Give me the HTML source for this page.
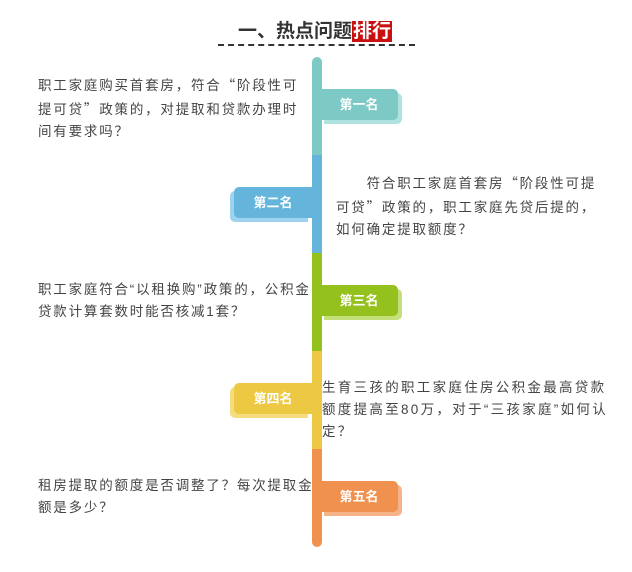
<!DOCTYPE html>
<html><head><meta charset="utf-8"><style>
body{margin:0;width:632px;height:572px;background:#fff;position:relative;overflow:hidden;font-family:"Liberation Sans","Noto Sans CJK SC",sans-serif;}
.a{position:absolute}
.t{position:absolute;font-size:13.5px;color:#444;line-height:22px;letter-spacing:1.8px;white-space:nowrap}
.q{font-family:"Noto Sans CJK SC",sans-serif}
.tag{position:absolute;width:78px;height:31px;color:#fff;font-size:13px;font-weight:bold;text-align:center;line-height:31px;border-radius:0 5px 5px 0}
.tl{border-radius:5px 0 0 5px}
</style></head><body>
<div class="a" style="left:238px;top:19px;font-size:19px;font-weight:bold;color:#333;line-height:25px">一、热点问题<span style="background:#c8100f;color:#fff;padding:0 1px">排行</span></div>
<div class="a" style="left:218px;top:44px;width:197px;border-top:2px dashed #333"></div>

<div class="a" style="left:312px;top:57px;width:10px;height:98px;background:#7cc9c5;border-radius:5px 5px 0 0"></div>
<div class="a" style="left:312px;top:155px;width:10px;height:98px;background:#65b4db"></div>
<div class="a" style="left:312px;top:253px;width:10px;height:98px;background:#95c11f"></div>
<div class="a" style="left:312px;top:351px;width:10px;height:98px;background:#ecc843"></div>
<div class="a" style="left:312px;top:449px;width:10px;height:98px;background:#f0914f;border-radius:0 0 5px 5px"></div>

<div class="tag" style="left:324px;top:93px;background:#aee3e0"></div>
<div class="tag" style="left:320px;top:89px;background:#7cc9c5">第一名</div>
<div class="tag tl" style="left:230px;top:191px;background:#9dd3ef"></div>
<div class="tag tl" style="left:234px;top:187px;background:#65b4db">第二名</div>
<div class="tag" style="left:324px;top:289px;background:#c5e07a"></div>
<div class="tag" style="left:320px;top:285px;background:#95c11f">第三名</div>
<div class="tag tl" style="left:230px;top:387px;background:#f5dc7e"></div>
<div class="tag tl" style="left:234px;top:383px;background:#ecc843">第四名</div>
<div class="tag" style="left:324px;top:485px;background:#f6b389"></div>
<div class="tag" style="left:320px;top:481px;background:#f0914f">第五名</div>

<div class="t" style="left:38px;top:73px">职工家庭购买首套房，符合<span class="q">“</span>阶段性可<br>提可贷<span class="q">”</span>政策的，对提取和贷款办理时<br>间有要求吗？</div>
<div class="t" style="left:336px;top:171px">　　符合职工家庭首套房<span class="q">“</span>阶段性可提<br>可贷<span class="q">”</span>政策的，职工家庭先贷后提的，<br>如何确定提取额度？</div>
<div class="t" style="left:38px;top:279px">职工家庭符合“以租换购”政策的，公积金<br>贷款计算套数时能否核减1套？</div>
<div class="t" style="left:322px;top:377px;letter-spacing:2.3px">生育三孩的职工家庭住房公积金最高贷款<br>额度提高至80万，对于“三孩家庭”如何认<br>定？</div>
<div class="t" style="left:38px;top:475px">租房提取的额度是否调整了？每次提取金<br>额是多少？</div>
</body></html>
